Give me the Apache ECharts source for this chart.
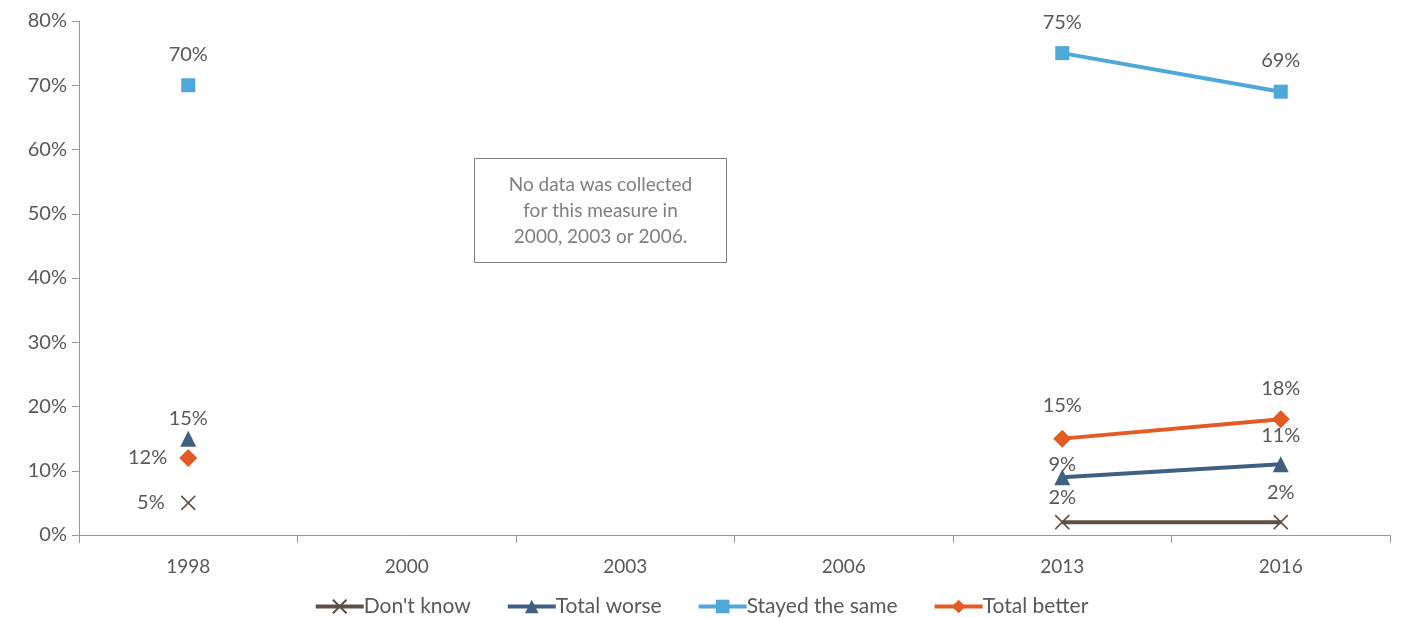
<!DOCTYPE html>
<html><head><meta charset="utf-8">
<script src="https://cdn.jsdelivr.net/npm/echarts@6/dist/echarts.min.js"></script>
<style>html,body{margin:0;padding:0;background:#fff}#c{width:1402px;height:618px}</style>
</head><body><div id="c"></div>
<script>
const categories = ['1998','2000','2003','2006','2013','2016'];
const dontKnow = [5, null, null, null, 2, 2];
const totalWorse = [15, null, null, null, 9, 11];
const stayedSame = [70, null, null, null, 75, 69];
const totalBetter = [12, null, null, null, 15, 18];
const yTicks = [0,10,20,30,40,50,60,70,80];
const noteText = 'No data was collected\nfor this measure in\n2000, 2003 or 2006.';

const FONT = 'Lato, "Open Sans", sans-serif';
const TXT = '#595959';
const chart = echarts.init(document.getElementById('c'));
function lbl(pos, dist){ return {show:true, position:pos, distance:dist, formatter:'{c}%', color:TXT, fontSize:20, fontFamily:FONT}; }
function perLabel(vals, positions, dists){
  return vals.map((v,i)=> v==null ? null : {value:v, label:{show:true, position:positions[i], distance:dists[i]}});
}
chart.setOption({
  animation:false,
  grid:{left:79, right:12, top:21, bottom:83},
  legend:{
    bottom:-4, itemWidth:48, itemHeight:17, itemGap:35,
    lineStyle:{width:4},
    textStyle:{color:TXT, fontSize:21, fontFamily:FONT, padding:[0,0,0,-5]},
    data:["Don't know",'Total worse','Stayed the same','Total better']
  },
  xAxis:{
    type:'category', data:categories, boundaryGap:true,
    axisLine:{lineStyle:{color:'#999'}},
    axisTick:{show:true, length:8, lineStyle:{color:'#999'}},
    axisLabel:{color:TXT, fontSize:19, fontFamily:FONT, margin:22}
  },
  yAxis:{
    type:'value', min:yTicks[0], max:yTicks[yTicks.length-1], interval:10,
    axisLine:{show:true, lineStyle:{color:'#999'}},
    axisTick:{show:true, length:7, lineStyle:{color:'#999'}},
    splitLine:{show:false},
    axisLabel:{color:TXT, fontSize:20, fontFamily:FONT, margin:12, formatter:'{value}%'}
  },
  series:[
    {name:"Don't know", type:'line', data:perLabel(dontKnow,['left','','','','top','top'],[14,0,0,0,5,10]),
     connectNulls:false, symbol:'path://M0,0L10,10M10,0L0,10', symbolSize:14,
     lineStyle:{color:'#5e5045', width:4}, itemStyle:{color:'none', borderColor:'#5e5045', borderWidth:1.5},
     label:lbl('top',12), z:2},
    {name:'Total worse', type:'line', data:perLabel(totalWorse,['top','','','','top','top'],[2,0,0,0,-5,11]),
     connectNulls:false, symbol:'triangle', symbolSize:16,
     lineStyle:{color:'#3f6080', width:4}, itemStyle:{color:'#3f6080'},
     label:lbl('top',6), z:3},
    {name:'Stayed the same', type:'line', data:perLabel(stayedSame,['top','','','','top','top'],[14,0,0,0,14,14]),
     connectNulls:false, symbol:'rect', symbolSize:14,
     lineStyle:{color:'#4ea8d8', width:4}, itemStyle:{color:'#4ea8d8'},
     label:lbl('top',14), z:4},
    {name:'Total better', type:'line', data:perLabel(totalBetter,['left','','','','top','top'],[12,0,0,0,14,12]),
     connectNulls:false, symbol:'diamond', symbolSize:18,
     lineStyle:{color:'#e35a24', width:4}, itemStyle:{color:'#e35a24'},
     label:lbl('top',14), z:5}
  ],
  graphic:[{
    type:'group', left:474, top:158,
    children:[
      {type:'rect', shape:{x:0,y:0,width:252,height:104}, style:{fill:'#fff', stroke:'#7f7f7f', lineWidth:1}},
      {type:'text', x:126, y:52, style:{text:noteText, fill:'#7f7f7f', fontSize:19, fontFamily:FONT, align:'center', verticalAlign:'middle', lineHeight:26}}
    ]
  }]
});
</script></body></html>
